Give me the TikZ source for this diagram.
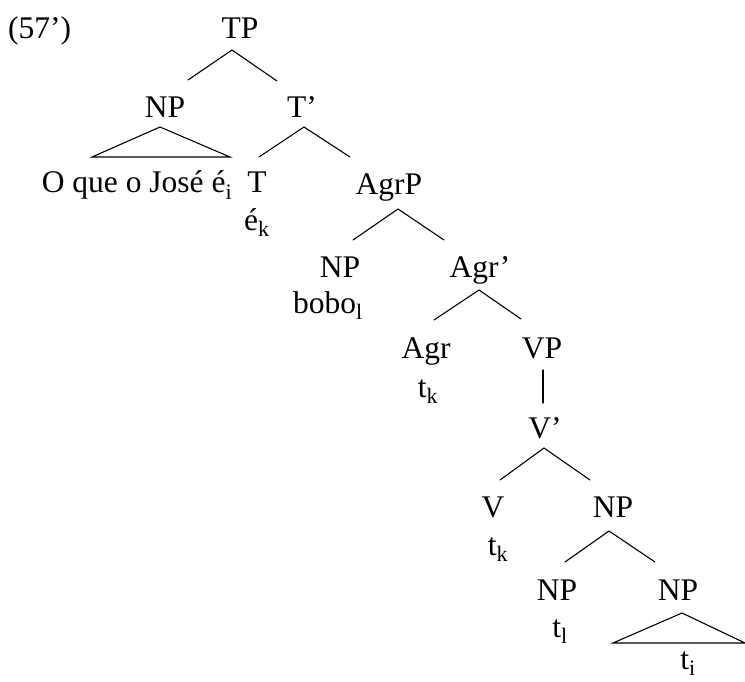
\documentclass[tikz,border=0pt]{standalone}
\usepackage{fontspec}
\setmainfont{Liberation Serif}
\begin{document}
\begin{tikzpicture}[x=1pt,y=-1pt,
  lab/.style={anchor=base,inner sep=0pt,font=\fontsize{31.5}{36}\selectfont},
  branch/.style={line width=1.1pt,line cap=round}]
\useasboundingbox (0,0) rectangle (745,682);

% example number
\node[lab,anchor=base west] (ex) at (8,39) {(57’)};

% labels
\node[lab] (TP)   at (240,39)  {TP};
\node[lab] (NPa)  at (165,118) {NP};
\node[lab] (Tb)   at (302,118) {T’};
\node[lab] (subj) at (137,193) {O que o José é\textsubscript{i}};
\node[lab] (T)    at (257,193) {T};
\node[lab] (Tw)   at (257,230) {é\textsubscript{k}};
\node[lab] (AgrP) at (389,195) {AgrP};
\node[lab] (NPb)  at (340,277) {NP};
\node[lab] (bobo) at (328,313) {bobo\textsubscript{l}};
\node[lab] (Agrb) at (480,277) {Agr’};
\node[lab] (Agr)  at (426,358) {Agr};
\node[lab] (tka)  at (428,397) {t\textsubscript{k}};
\node[lab] (VP)   at (542,358) {VP};
\node[lab] (Vb)   at (545,438) {V’};
\node[lab] (V)    at (493,517) {V};
\node[lab] (tkb)  at (498,555) {t\textsubscript{k}};
\node[lab] (NPc)  at (613,517) {NP};
\node[lab] (NPd)  at (557,600) {NP};
\node[lab] (tl)   at (560,637) {t\textsubscript{l}};
\node[lab] (NPe)  at (678,600) {NP};
\node[lab] (ti)   at (688,669) {t\textsubscript{i}};

% branch points below each mother node
\coordinate (TP-d)   at (232,50);
\coordinate (NPa-d)  at (160,127);
\coordinate (Tb-d)   at (304,127);
\coordinate (AgrP-d) at (398,209);
\coordinate (Agrb-d) at (479,290);
\coordinate (VP-d)   at (543,370);
\coordinate (Vb-d)   at (544,448);
\coordinate (NPc-d)  at (609,531);
\coordinate (NPe-d)  at (682,613);

% branch ends above each daughter
\coordinate (NPa-u)  at (188,80);
\coordinate (Tb-u)   at (277,81);
\coordinate (T-u)    at (259,157);
\coordinate (AgrP-u) at (350,157);
\coordinate (NPb-u)  at (353,240);
\coordinate (Agrb-u) at (444,240);
\coordinate (Agr-u)  at (434,320);
\coordinate (VP-u)   at (521,319);
\coordinate (Vb-u)   at (543,403);
\coordinate (V-u)    at (500,480);
\coordinate (NPc-u)  at (590,480);
\coordinate (NPd-u)  at (565,562);
\coordinate (NPe-u)  at (655,562);

% triangle corners
\coordinate (triA-l) at (92,157);
\coordinate (triA-r) at (230,157);
\coordinate (triB-l) at (613,643);
\coordinate (triB-r) at (745,643);

\draw[branch] (NPa-u) -- (TP-d) -- (Tb-u);
\draw[branch] (T-u) -- (Tb-d) -- (AgrP-u);
\draw[branch] (NPb-u) -- (AgrP-d) -- (Agrb-u);
\draw[branch] (Agr-u) -- (Agrb-d) -- (VP-u);
\draw[branch] (VP-d) -- (Vb-u);
\draw[branch] (V-u) -- (Vb-d) -- (NPc-u);
\draw[branch] (NPd-u) -- (NPc-d) -- (NPe-u);

% roof triangles
\draw[branch,line join=miter] (NPa-d) -- (triA-l) -- (triA-r) -- cycle;
\draw[branch,line join=miter] (NPe-d) -- (triB-l) -- (triB-r) -- cycle;
\end{tikzpicture}
\end{document}
